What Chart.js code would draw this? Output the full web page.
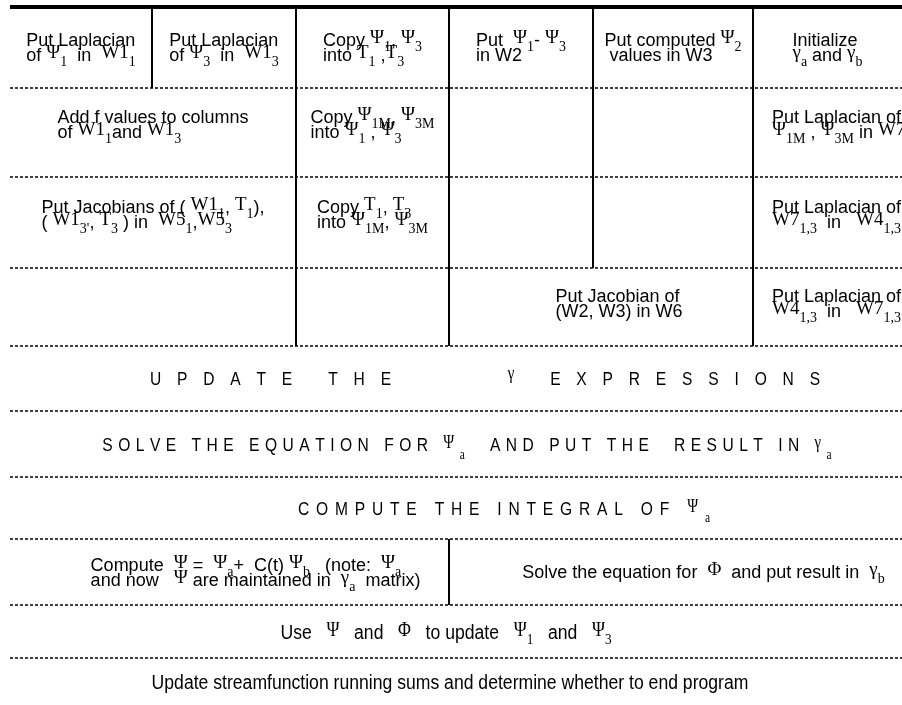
<!DOCTYPE html>
<html>
<head>
<meta charset="utf-8">
<script src="https://cdn.jsdelivr.net/npm/chart.js@4/dist/chart.umd.min.js"></script>
<style>
  html, body { margin: 0; padding: 0; background: #fff; }
  canvas { display: block; }
</style>
</head>
<body>
<canvas id="sheet" width="902" height="705"></canvas>
<script>
// sheet grid, in sheet units (one unit = one pixel of the original page)
const rowBounds = [7, 88, 177, 268, 346, 411, 477, 539, 605, 658, 705];
const colBounds = [10, 152, 296, 449, 593, 753, 902];

// vertical dividers: [column boundary index, first row, last row]
const dividers = [
  [1, 0, 1],
  [2, 0, 4],
  [3, 0, 4],
  [4, 0, 3],
  [5, 0, 4],
  [3, 7, 8]
];

// cell texts: {Ψ} = math symbol, _x or _{xy} = subscript
const cells = [
  { row: 0, c0: 0, c1: 1, lines: ['Put Laplacian', 'of {Ψ}_1  in  {W1}_1'] },
  { row: 0, c0: 1, c1: 2, lines: ['Put Laplacian', 'of {Ψ}_3  in  {W1}_3'] },
  { row: 0, c0: 2, c1: 3, lines: ['Copy {Ψ}_1, {Ψ}_3', 'into {T}_1 ,{T}_3'] },
  { row: 0, c0: 3, c1: 4, lines: ['Put  {Ψ}_1- {Ψ}_3', 'in W2'] },
  { row: 0, c0: 4, c1: 5, lines: ['Put computed {Ψ}_2', ' values in W3'] },
  { row: 0, c0: 5, c1: 6, lines: ['Initialize', '{γ}_a and {γ}_b'] },

  { row: 1, c0: 0, c1: 2, dy: -8, lines: ['Add f values to columns', 'of {W1}_1and {W1}_3'] },
  { row: 1, c0: 2, c1: 3, dy: -8, lines: ['Copy {Ψ}_{1M}, {Ψ}_{3M}', 'into {Ψ}_1 , {Ψ}_3'] },
  { row: 1, c0: 5, c1: 6, dy: -8, align: 'left', lines: ['Put Laplacian of', '{Ψ}_{1M} , {Ψ}_{3M} in {W7}_{1,3}'] },

  { row: 2, c0: 0, c1: 2, dy: -8, lines: ['Put Jacobians of ( {W1}_1, {T}_1),', '( {W1}_{3\'}, {T}_3 ) in  {W5}_1,{W5}_3'] },
  { row: 2, c0: 2, c1: 3, dy: -8, lines: ['Copy {T}_1, {T}_3', 'into {Ψ}_{1M}, {Ψ}_{3M}'] },
  { row: 2, c0: 5, c1: 6, dy: -8, align: 'left', lines: ['Put Laplacian of', '{W7}_{1,3}  in   {W4}_{1,3}'] },

  { row: 3, c0: 3, c1: 5, dx: 18, dy: -4, lines: ['Put Jacobian of', '(W2, W3) in W6'] },
  { row: 3, c0: 5, c1: 6, dy: -4, align: 'left', lines: ['Put Laplacian of', '{W4}_{1,3}  in   {W7}_{1,3}'] },

  { row: 4, c0: 0, c1: 6, dx: 29, style: 'banner', lines: ['UPDATE THE     {γ} EXPRESSIONS'] },
  { row: 5, c0: 0, c1: 6, dx: 11, style: 'caps', lines: ['SOLVE THE EQUATION FOR {Ψ}_a  AND PUT THE  RESULT IN {γ}_a'] },
  { row: 6, c0: 0, c1: 6, dx: 48, style: 'caps2', lines: ['COMPUTE THE INTEGRAL OF {Ψ}_a'] },

  { row: 7, c0: 0, c1: 3, dx: 26, lines: ['Compute  {Ψ} =  {Ψ}_a+  C(t) {Ψ}_b   (note:  {Ψ}_a', 'and now   {Ψ} are maintained in  {γ}_a  matrix)'] },
  { row: 7, c0: 3, c1: 6, dx: 28, lines: ['Solve the equation for  {Φ}  and put result in  {γ}_b'] },

  { row: 8, c0: 0, c1: 6, dx: -10, style: 'narrow', lines: ['Use   {Ψ}   and   {Φ}   to update   {Ψ}_1   and   {Ψ}_3'] },
  { row: 9, c0: 0, c1: 6, dx: -6, style: 'narrow', lines: ['Update streamfunction running sums and determine whether to end program'] }
];

const styles = {
  table:  { size: 18, mathSize: 19, subSize: 14, lh: 15, mathDy: -3, subDy: 5, hscale: 1, spacing: 0, inset: 19 },
  banner: { size: 19, mathSize: 18, subSize: 13, lh: 15, mathDy: -6, subDy: 7, hscale: 0.82, spacing: 19.3, inset: 0 },
  caps:   { size: 19, mathSize: 18, subSize: 14, lh: 15, mathDy: -3, subDy: 8, hscale: 0.82, spacing: 6.7, inset: 0 },
  caps2:  { size: 19, mathSize: 18, subSize: 14, lh: 15, mathDy: -3, subDy: 7, hscale: 0.82, spacing: 8.3, inset: 0 },
  narrow: { size: 20, mathSize: 20, subSize: 15, lh: 15, mathDy: -3, subDy: 5, hscale: 0.88, spacing: 0, inset: 0 }
};

function parse(line) {
  const runs = [];
  let buf = '', i = 0;
  const flush = () => { if (buf) { runs.push({ kind: 'sans', text: buf }); buf = ''; } };
  while (i < line.length) {
    const ch = line[i];
    if (ch === '{') {
      flush();
      const j = line.indexOf('}', i);
      runs.push({ kind: 'math', text: line.slice(i + 1, j) });
      i = j + 1;
    } else if (ch === '_') {
      flush();
      if (line[i + 1] === '{') {
        const j = line.indexOf('}', i);
        runs.push({ kind: 'sub', text: line.slice(i + 2, j) });
        i = j + 1;
      } else {
        runs.push({ kind: 'sub', text: line[i + 1] });
        i += 2;
      }
    } else {
      buf += ch;
      i++;
    }
  }
  flush();
  return runs;
}

function fontOf(kind, st) {
  if (kind === 'math') return st.mathSize + 'px "Liberation Serif", "Times New Roman", serif';
  if (kind === 'sub') return st.subSize + 'px "Liberation Serif", "Times New Roman", serif';
  return st.size + 'px "Liberation Sans", Arial, sans-serif';
}

function pieces(run, st) {
  return st.spacing ? [...run.text] : [run.text];
}

function lineWidth(ctx, runs, st) {
  let w = 0;
  runs.forEach(r => {
    ctx.font = fontOf(r.kind, st);
    pieces(r, st).forEach(p => { w += ctx.measureText(p).width + st.spacing; });
  });
  return (w - st.spacing) * st.hscale;
}

function drawLine(ctx, runs, left, base, st) {
  ctx.save();
  ctx.translate(left, base);
  ctx.scale(st.hscale, 1);
  let cx = 0;
  runs.forEach(r => {
    ctx.font = fontOf(r.kind, st);
    const dy = r.kind === 'math' ? st.mathDy : r.kind === 'sub' ? st.subDy : 0;
    pieces(r, st).forEach(p => {
      ctx.fillText(p, cx, dy);
      cx += ctx.measureText(p).width + st.spacing;
    });
  });
  ctx.restore();
}

const cellText = {
  id: 'cellText',
  afterDatasetsDraw(chart) {
    const { ctx, scales: { x, y } } = chart;
    ctx.save();
    ctx.fillStyle = '#000';
    ctx.textBaseline = 'alphabetic';
    cells.forEach(cell => {
      const st = Object.assign({}, styles[cell.style || 'table']);
      const x0 = x.getPixelForValue(colBounds[cell.c0]);
      const x1 = x.getPixelForValue(colBounds[cell.c1]);
      const y0 = y.getPixelForValue(rowBounds[cell.row]);
      const y1 = y.getPixelForValue(rowBounds[cell.row + 1]);
      const lines = cell.lines.map(parse);
      const blockW = Math.max(...lines.map(l => lineWidth(ctx, l, st)));
      let left = cell.align === 'left' ? x0 + st.inset : (x0 + x1) / 2 - blockW / 2;
      left += cell.dx || 0;
      const midY = (y0 + y1) / 2 + (cell.dy || 0);
      const firstBase = midY - (lines.length - 1) * st.lh / 2 + st.size * 0.36;
      lines.forEach((l, i) => drawLine(ctx, l, left, firstBase + i * st.lh, st));
    });
    ctx.restore();
  }
};

const left = colBounds[0], right = colBounds[colBounds.length - 1];

const datasets = [];
// heavy top rule
datasets.push({
  data: [{ x: left, y: rowBounds[0] }, { x: right, y: rowBounds[0] }],
  borderWidth: 4
});
// dotted row rules
rowBounds.slice(1, -1).forEach(v => {
  datasets.push({
    data: [{ x: left, y: v }, { x: right, y: v }],
    borderWidth: 1.3,
    borderDash: [3, 2]
  });
});
// solid column dividers
dividers.forEach(([c, r0, r1]) => {
  datasets.push({
    data: [{ x: colBounds[c], y: rowBounds[r0] }, { x: colBounds[c], y: rowBounds[r1] }],
    borderWidth: 2
  });
});
datasets.forEach(d => {
  d.showLine = true;
  d.pointRadius = 0;
  d.borderColor = '#000';
  d.fill = false;
});

new Chart(document.getElementById('sheet'), {
  type: 'scatter',
  data: { datasets },
  options: {
    responsive: false,
    animation: false,
    events: [],
    layout: { padding: 0 },
    plugins: {
      legend: { display: false },
      tooltip: { enabled: false }
    },
    scales: {
      x: { type: 'linear', min: 0, max: 902, display: false },
      y: { type: 'linear', min: 0, max: 705, reverse: true, display: false }
    }
  },
  plugins: [cellText]
});
</script>
</body>
</html>
